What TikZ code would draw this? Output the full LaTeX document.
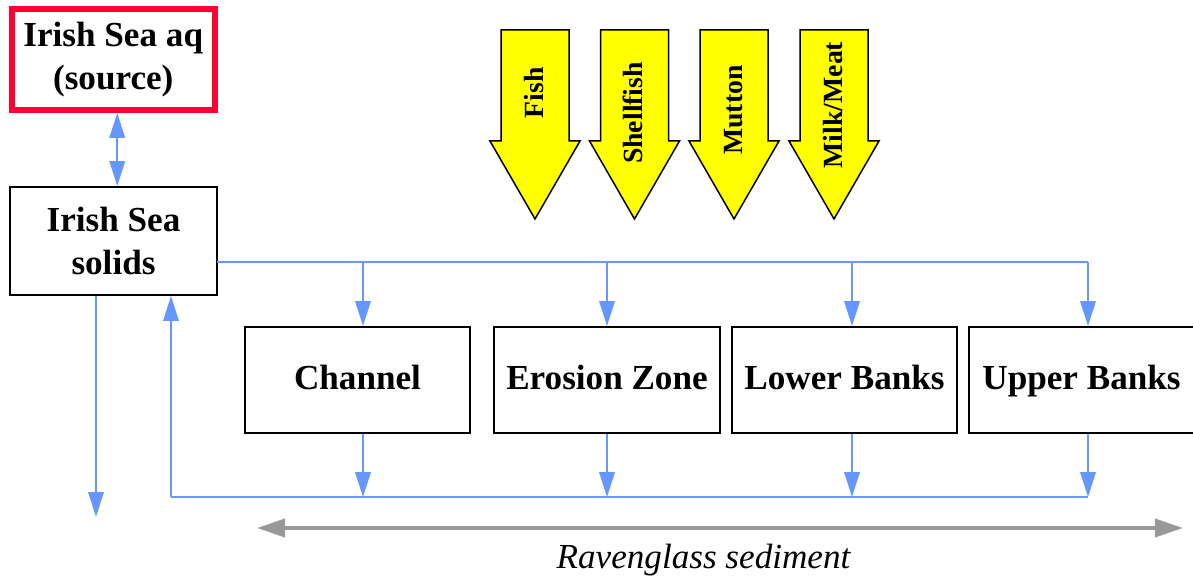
\documentclass[tikz,border=0pt]{standalone}
\usepackage{fontspec}
\setmainfont{Liberation Serif}
\usetikzlibrary{arrows.meta}
\definecolor{flowblue}{RGB}{102,150,255}
\definecolor{srcred}{RGB}{255,0,51}
\definecolor{axisgray}{RGB}{153,153,153}
\definecolor{yel}{RGB}{255,255,0}
\tikzset{
  box/.style={draw=black, line width=0.04cm, inner sep=0pt, minimum width=4.5cm, minimum height=2.12cm,
    font=\fontsize{20}{24}\selectfont\bfseries, text height=0.55cm, text depth=0.15cm},
  bigbox/.style={draw=black, line width=0.04cm, inner sep=0pt, align=center,
    font=\fontsize{20}{24}\selectfont\bfseries},
  flow/.style={draw=flowblue, line width=0.04cm, -{Triangle[length=0.5cm,width=0.31cm]}},
  flowline/.style={draw=flowblue, line width=0.04cm},
  flowboth/.style={draw=flowblue, line width=0.04cm, {Triangle[length=0.5cm,width=0.31cm]}-{Triangle[length=0.5cm,width=0.31cm]}},
  yarrow/.style={draw=black, fill=yel, line width=0.03cm, line join=miter},
  ylabel/.style={rotate=90, anchor=base, inner sep=0pt, font=\fontsize{15.8}{19}\selectfont\bfseries},
  grayarr/.style={draw=axisgray, line width=0.08cm, {Triangle[length=0.56cm,width=0.36cm]}-{Triangle[length=0.56cm,width=0.36cm]}}
}
\begin{document}
\begin{tikzpicture}[x=0.02cm, y=-0.02cm]
\useasboundingbox (0,0) rectangle (1193,580);

% source and solids boxes
\node[bigbox, draw=srcred, line width=0.12cm, minimum width=4.07cm, minimum height=2.02cm] (aq) at (113.25,59.5) {Irish Sea aq\\(source)};
\node[bigbox, minimum width=4.14cm, minimum height=2.16cm] (solids) at (113.5,241) {Irish Sea\\solids};

% compartment boxes
\node[box] (ch) at (357.5,380) {Channel};
\node[box, minimum width=4.52cm] (ez) at (607,380) {Erosion Zone};
\node[box] (lb) at (844.5,380) {Lower Banks};
\node[box] (ub) at (1081.5,380) {Upper Banks};

% yellow intake arrows
\draw[yarrow] (501,30) -- (569,30) -- (569,141) -- (580,141) -- (535,219) -- (490,141) -- (501,141) -- cycle;
\node[ylabel] (fish) at (543,93) {Fish};
\draw[yarrow] (600.5,30) -- (668.5,30) -- (668.5,141) -- (679.5,141) -- (634.5,219) -- (589.5,141) -- (600.5,141) -- cycle;
\node[ylabel] (shell) at (642.5,113) {Shellfish};
\draw[yarrow] (700,30) -- (768,30) -- (768,141) -- (779,141) -- (734,219) -- (689,141) -- (700,141) -- cycle;
\node[ylabel] (mutton) at (742,110) {Mutton};
\draw[yarrow] (800,30) -- (868,30) -- (868,141) -- (879,141) -- (834,219) -- (789,141) -- (800,141) -- cycle;
\node[ylabel] (milk) at (842,105) {Milk/Meat};

% exchange between source and solids
\draw[flowboth] ([xshift=0.08cm]aq.south) -- ([xshift=0.08cm]aq.south |- solids.north);

% top distribution bus
\coordinate (t0) at (217,262);
\coordinate (d1) at (363,262);
\coordinate (d2) at (607,262);
\coordinate (d3) at (852,262);
\coordinate (d4) at (1088,262);
\draw[flowline] (t0) -- (d4);
\draw[flow] (d1) -- (d1 |- ch.north);
\draw[flow] (d2) -- (d2 |- ez.north);
\draw[flow] (d3) -- (d3 |- lb.north);
\draw[flow] (d4) -- (d4 |- ub.north);

% bottom collection bus
\coordinate (b0) at (171,497);
\coordinate (b1) at (363,497);
\coordinate (b2) at (607,497);
\coordinate (b3) at (852,497);
\coordinate (b4) at (1088,497);
\draw[flowline] (b0) -- (b4);
\draw[flow] (b1 |- ch.south) -- (b1);
\draw[flow] (b2 |- ez.south) -- (b2);
\draw[flow] (b3 |- lb.south) -- (b3);
\draw[flow] (b4 |- ub.south) -- (b4);
\draw[flow] (b0) -- (b0 |- solids.south);

% loss from solids
\coordinate (out) at (96,517);
\draw[flow] (out |- solids.south) -- (out);

% Ravenglass sediment extent
\coordinate (gl) at (257,528);
\coordinate (gr) at (1183,528);
\draw[grayarr] (gl) -- (gr);
\node[anchor=base, inner sep=0pt, font=\fontsize{20}{24}\selectfont\itshape] (rav) at (703.5,568) {Ravenglass sediment};
\end{tikzpicture}
\end{document}
